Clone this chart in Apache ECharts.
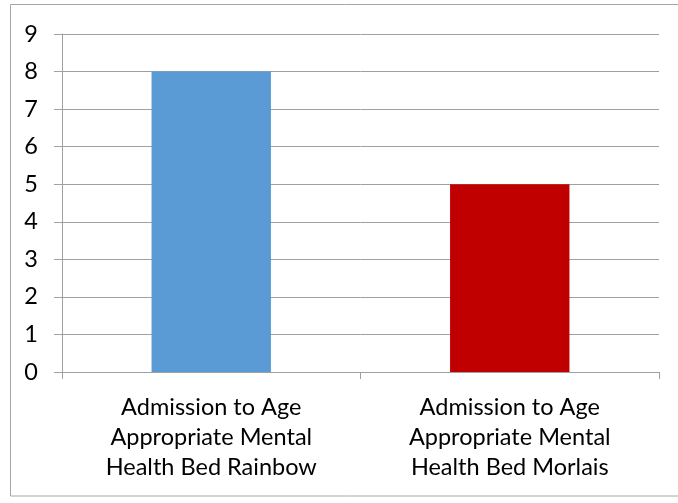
<!DOCTYPE html>
<html>
<head>
<meta charset="utf-8">
<script src="https://cdn.jsdelivr.net/npm/echarts@6/dist/echarts.min.js"></script>
<style>html,body{margin:0;padding:0;background:#fff;}#c{width:678px;height:503px;}</style>
</head>
<body>
<div id="c"></div>
<script>
const categories = ["Admission to Age\nAppropriate Mental\nHealth Bed Rainbow", "Admission to Age\nAppropriate Mental\nHealth Bed Morlais"];
const values = [8, 5];
const barColors = ["#5B9BD5", "#C00000"];
const yTicks = [0, 1, 2, 3, 4, 5, 6, 7, 8, 9];

const chart = echarts.init(document.getElementById('c'), null, {renderer: 'canvas'});
chart.setOption({
  animation: false,
  backgroundColor: '#fff',
  graphic: [{
    type: 'rect', shape: {x: 10.5, y: 4.5, width: 700, height: 491.5},
    style: {fill: 'none', stroke: '#a6a6a6', lineWidth: 1}, silent: true
  }],
  grid: {left: 62, right: 19, top: 34, bottom: 131, containLabel: false},
  xAxis: {
    type: 'category', data: categories,
    axisLine: {lineStyle: {color: '#a0a0a0', width: 1}},
    axisTick: {show: true, length: 7, alignWithLabel: false, lineStyle: {color: '#a0a0a0'}},
    axisLabel: {color: '#000', fontFamily: 'Lato', fontSize: 23.5, lineHeight: 30, margin: 20, interval: 0}
  },
  yAxis: {
    type: 'value', min: yTicks[0], max: yTicks[yTicks.length - 1], interval: 1,
    axisLine: {show: true, lineStyle: {color: '#a0a0a0', width: 1}},
    axisTick: {show: true, length: 8, lineStyle: {color: '#a0a0a0'}},
    splitLine: {show: true, lineStyle: {color: '#a0a0a0', width: 1}},
    axisLabel: {color: '#000', fontFamily: 'Lato', fontSize: 23.5, margin: 24}
  },
  series: [{
    type: 'bar', barWidth: '40%',
    data: values.map((v, i) => ({value: v, itemStyle: {color: barColors[i]}}))
  }]
});
</script>
</body>
</html>
